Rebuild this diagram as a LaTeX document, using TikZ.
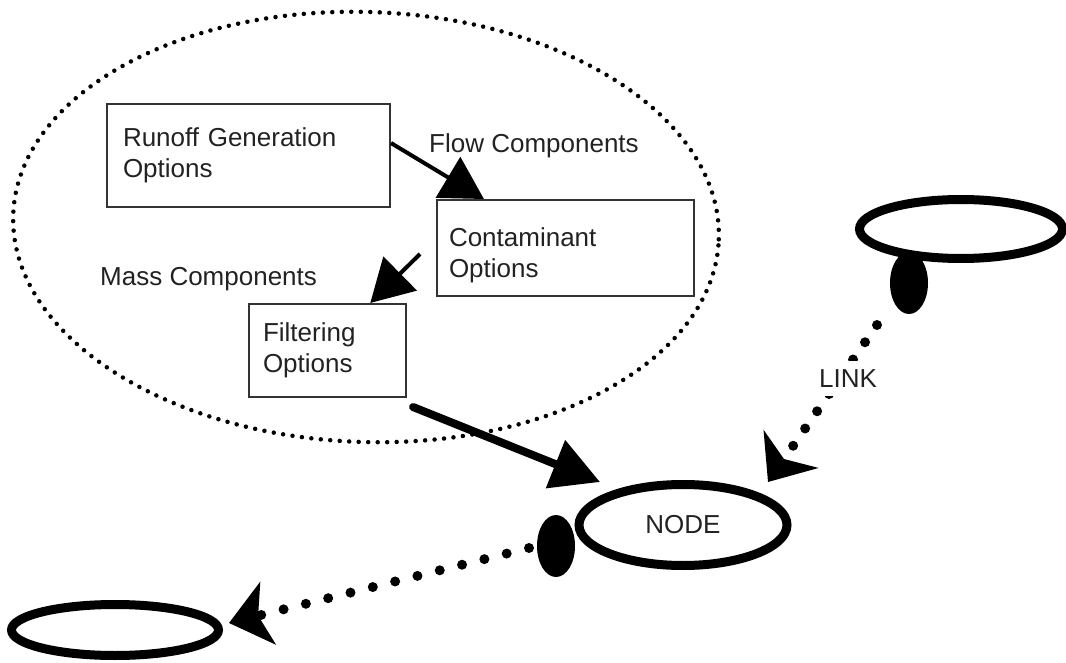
\documentclass[tikz,border=0pt]{standalone}
\usepackage{fontspec}
\setmainfont{Liberation Sans}
\usetikzlibrary{shapes.geometric,arrows.meta,calc}
\definecolor{ink}{HTML}{222222}
\definecolor{edge}{HTML}{333333}
\begin{document}
\begin{tikzpicture}[x=1pt,y=-1pt,
  lbl/.style={font=\fontsize{26}{31}\selectfont, text=ink, inner sep=0pt},
  optbox/.style={lbl, draw=edge, line width=2pt, align=left, inner ysep=0pt},
  ring/.style={ellipse, draw=black, line width=9pt, inner sep=0pt},
  joint/.style={ellipse, fill=black, inner sep=0pt, minimum width=38pt, minimum height=62pt},
  flow/.style={draw=black, line width=4pt, -{Triangle[length=42pt,width=47pt]}},
  dots/.style={draw=black, line width=10pt, line cap=round, dash pattern=on 0pt off #1},
  dots/.default=23pt,
]
\useasboundingbox (0,0) rectangle (1066,663);

% the dotted boundary of the component group
\node[ellipse, draw=black, rotate=-2, minimum width=706pt, minimum height=430pt,
      line width=4.5pt, line cap=round, dash pattern=on 0pt off 9.5pt, inner sep=0pt]
      (domain) at (366,227) {};

% option boxes
\node[optbox, minimum height=103pt, text width=251pt, inner xsep=16pt]
      (runoff) at (248.5,155.5) {Runoff Generation\\Options};
\node[optbox, minimum height=96pt, text width=233pt, inner xsep=12pt]
      (contam) at (565.5,248) {\rule{0pt}{33pt}Contaminant\\Options};
\node[optbox, minimum height=93pt, text width=129pt, inner xsep=14pt]
      (filter) at (327.5,350.5) {Filtering\\Options};

% group labels
\node[lbl, anchor=base west] (flowlbl) at (429,153) {Flow Components};
\node[lbl, anchor=base west] (masslbl) at (100,285) {Mass Components};

% network elements
\node[ring, lbl, minimum width=208pt, minimum height=81pt] (nd) at (683,525) {NODE};
\node[ring, minimum width=203pt, minimum height=59pt] (tr) at (961,229) {};
\node[ring, minimum width=207pt, minimum height=51pt] (bl) at (115,630) {};
\node[joint] (jA) at (556,546) {};
\node[joint] (jB) at (909,283) {};

% component connectors
\draw[flow] (runoff.5) -- (contam.149);
\draw[flow] ($(contam.west)+(-16,6)$) -- (filter.48);
\draw[draw=black, line width=8pt, line cap=round, -{Triangle[length=48pt,width=50pt]}]
      ($(filter.south east)+(6,9)$) -- ($(nd.center)+(-83,-43)$);

% links
\draw[dots, -{Stealth[length=40pt,width=64pt,inset=10pt]}]
      ($(jA.center)+(-27,2)$) -- ($(bl.east)+(6,-7)$);
\draw[dots=21pt, -{Stealth[length=40pt,width=66pt,inset=12pt]}]
      ($(jB.center)+(-32,42)$) -- ($(nd.center)+(85,-43)$);
\node[lbl, fill=white, inner sep=9pt] (linklbl) at (848,378.5) {LINK};
\end{tikzpicture}
\end{document}
